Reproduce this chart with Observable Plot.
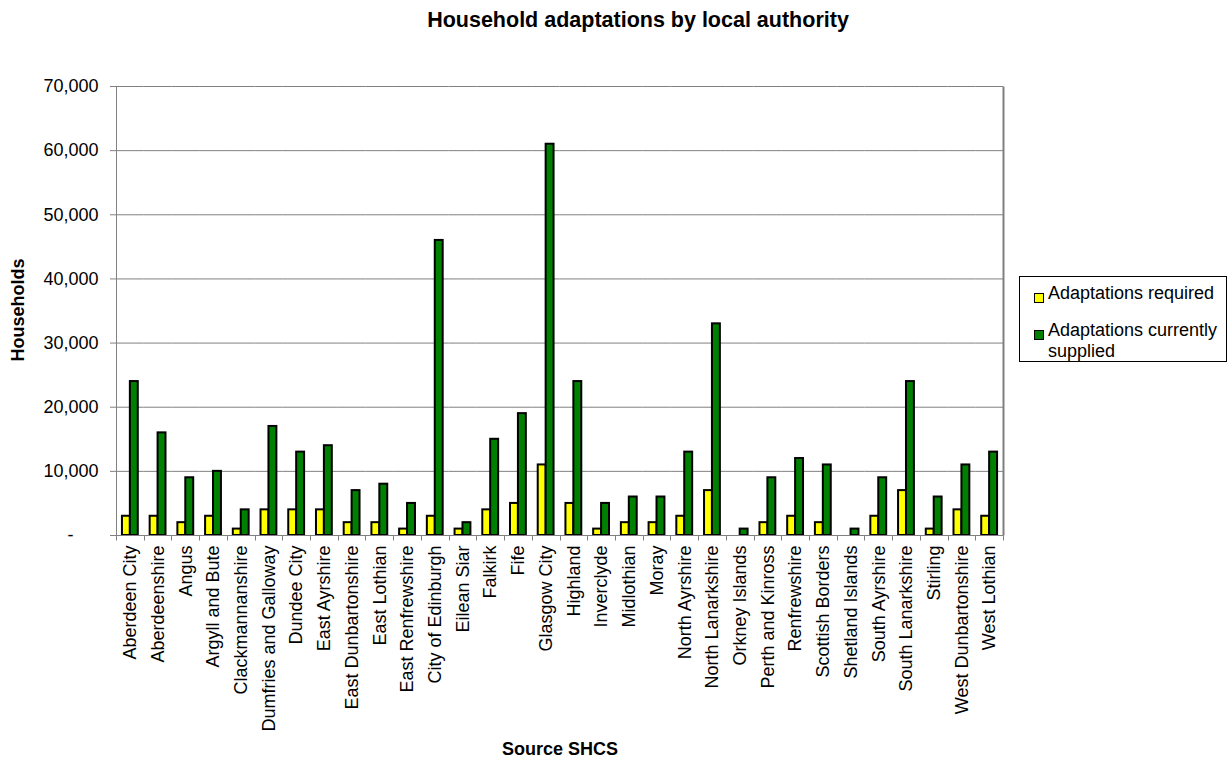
<!DOCTYPE html>
<html><head><meta charset="utf-8">
<script src="https://cdn.jsdelivr.net/npm/d3@7"></script>
<script src="https://cdn.jsdelivr.net/npm/@observablehq/plot@0.6"></script>
<style>
body{margin:0;background:#fff;font-family:"Liberation Sans",Arial,sans-serif;}
#wrap{position:relative;width:1227px;height:760px;overflow:hidden;background:#fff;}
#chart{position:absolute;left:0;top:0;}
.lbl{position:absolute;font-weight:bold;color:#000;white-space:nowrap;}
#title{left:0;width:1276px;top:8px;text-align:center;font-size:21.5px;line-height:24px;}
#xlab{left:0;width:1120px;top:739px;text-align:center;font-size:18px;line-height:21px;}
#ylab{left:18px;top:310px;font-size:18px;line-height:21px;transform:translate(-50%,-50%) rotate(-90deg);}
#legend{position:absolute;left:1019px;top:276px;width:206px;height:84px;border:1px solid #000;background:#fff;font-size:18px;color:#000;}
.item{position:absolute;left:14px;display:flex;align-items:flex-start;}
.sw{width:8px;height:8px;border:1px solid #000;margin-right:4px;}
.txt{line-height:21px;}
</style></head><body>
<div id="wrap">
  <div id="chart"></div>
  <div id="title" class="lbl">Household adaptations by local authority</div>
  <div id="ylab" class="lbl">Households</div>
  <div id="xlab" class="lbl">Source SHCS</div>
  <div id="legend"></div>
</div>
<script>
const authorities = ["Aberdeen City","Aberdeenshire","Angus","Argyll and Bute","Clackmannanshire","Dumfries and Galloway","Dundee City","East Ayrshire","East Dunbartonshire","East Lothian","East Renfrewshire","City of Edinburgh","Eilean Siar","Falkirk","Fife","Glasgow City","Highland","Inverclyde","Midlothian","Moray","North Ayrshire","North Lanarkshire","Orkney Islands","Perth and Kinross","Renfrewshire","Scottish Borders","Shetland Islands","South Ayrshire","South Lanarkshire","Stirling","West Dunbartonshire","West Lothian"];
const required = [3000,3000,2000,3000,1000,4000,4000,4000,2000,2000,1000,3000,1000,4000,5000,11000,5000,1000,2000,2000,3000,7000,0,2000,3000,2000,0,3000,7000,1000,4000,3000];
const supplied = [24000,16000,9000,10000,4000,17000,13000,14000,7000,8000,5000,46000,2000,15000,19000,61000,24000,5000,6000,6000,13000,33000,1000,9000,12000,11000,1000,9000,24000,6000,11000,13000];
const seriesNames = ["Adaptations required","Adaptations currently supplied"];
const seriesColors = ["#ffff00","#008000"];
const yTicks = [0,10000,20000,30000,40000,50000,60000,70000];

const data = authorities.flatMap((a,i)=>[
  {authority:a, series:seriesNames[0], value:required[i]},
  {authority:a, series:seriesNames[1], value:supplied[i]}
]);

const W=1227, H=760, mL=116, mR=224, mT=86, mB=225;
const fmt = d3.format(",");
const plot = Plot.plot({
  width:W, height:H, marginLeft:mL, marginRight:mR, marginTop:mT, marginBottom:mB,
  style:{fontFamily:"'Liberation Sans', Arial, sans-serif", fontSize:"18px", color:"#000", background:"#fff"},
  fx:{domain:authorities, padding:0, round:false, label:null},
  x:{domain:seriesNames, paddingInner:0, paddingOuter:0.75, round:false, axis:null},
  y:{domain:[0,70000], label:null},
  color:{domain:seriesNames, range:seriesColors},
  marks:[
    Plot.gridY(yTicks, {stroke:"#808080", strokeOpacity:1, strokeWidth:1}),
    Plot.axisY(yTicks, {tickFormat:d=> d===0 ? "-\u2007\u2007\u2008" : fmt(d), tickSize:6, tickPadding:12, stroke:"#808080", fontSize:18, fill:"#000", label:null}),
    Plot.axisFx({anchor:"bottom", tickSize:0, tickRotate:-90, tickPadding:10, fontSize:18, fill:"#000", label:null}),
    Plot.barY(data.filter(d=>d.value>0), {fx:"authority", x:"series", y:"value", fill:"series", stroke:"#000", strokeWidth:2, inset:0})
  ]
});
document.getElementById("chart").appendChild(plot);

// axis lines, right border and category boundary ticks, placed via the plot's own scales
const fxs = plot.scale("fx"), ys = plot.scale("y");
const svg = d3.select(plot);
const y0 = ys.apply(0), yTop = ys.apply(70000);
const lefts = authorities.map(a=>fxs.apply(a));
const xRight = lefts[lefts.length-1] + fxs.bandwidth;
const g = svg.append("g").attr("stroke","#808080").attr("stroke-width",1).attr("transform","translate(0.5,0.5)");
g.append("line").attr("x1",Math.round(lefts[0])).attr("x2",Math.round(lefts[0])).attr("y1",yTop).attr("y2",y0);
g.append("line").attr("x1",Math.round(xRight)).attr("x2",Math.round(xRight)).attr("y1",yTop).attr("y2",y0).attr("stroke-width",2);
g.append("line").attr("x1",lefts[0]).attr("x2",xRight).attr("y1",y0).attr("y2",y0);
g.selectAll(".bt").data([...lefts, xRight]).join("line")
  .attr("x1",d=>Math.round(d)).attr("x2",d=>Math.round(d)).attr("y1",y0).attr("y2",y0+5);

// legend
const legend = document.getElementById("legend");
const tops = [6, 43];
seriesNames.forEach((s,i)=>{
  const it = document.createElement("div");
  it.className = "item";
  it.style.top = tops[i]+"px";
  const sw = document.createElement("div");
  sw.className = "sw"; sw.style.background = seriesColors[i]; sw.style.marginTop = "10px";
  const tx = document.createElement("div");
  tx.className = "txt";
  tx.innerHTML = i===1 ? "Adaptations currently<br>supplied" : s;
  it.appendChild(sw); it.appendChild(tx);
  legend.appendChild(it);
});
</script>
</body></html>
